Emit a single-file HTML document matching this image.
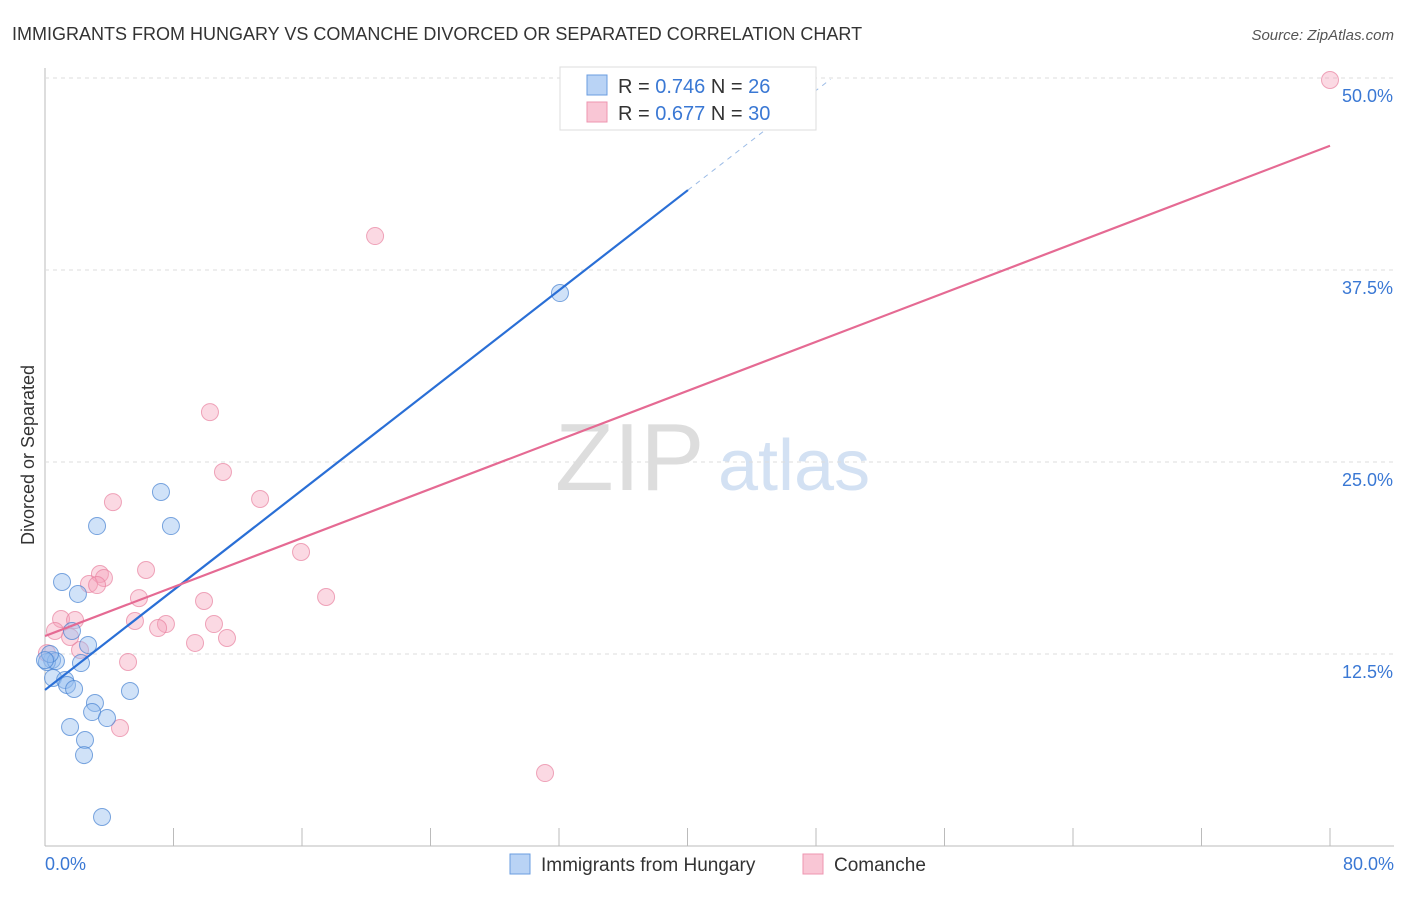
<!DOCTYPE html>
<html><head><meta charset="utf-8"><style>
body{margin:0;background:#fff;font-family:"Liberation Sans",sans-serif}
svg text{font-family:"Liberation Sans",sans-serif}
</style></head><body>
<svg id="chart" width="1406" height="892" viewBox="0 0 1406 892">
<text x="12" y="40" font-size="18" fill="#333">IMMIGRANTS FROM HUNGARY VS COMANCHE DIVORCED OR SEPARATED CORRELATION CHART</text>
<text x="1394" y="40" font-size="15" fill="#555" font-style="italic" text-anchor="end">Source: ZipAtlas.com</text>
<text transform="translate(34,455) rotate(-90)" font-size="18" fill="#333" text-anchor="middle">Divorced or Separated</text>
<text x="555" y="490" font-size="96" fill="#ddd" font-family="Liberation Serif">ZIP</text>
<text x="718" y="490" font-size="72" fill="#d3e1f3">atlas</text>
<g id="grid"></g><g id="pts"></g><g id="lines"></g>
<g>
<rect x="560" y="67" width="256" height="63" fill="#fff" stroke="#ddd"/>
<rect x="587" y="75" width="20" height="20" fill="#b9d3f5" stroke="#6a9de0"/>
<rect x="587" y="102" width="20" height="20" fill="#f9c6d5" stroke="#ee95b0"/>
<text x="618" y="93" font-size="20" fill="#333">R = <tspan fill="#3a78d4">0.746</tspan>   N = <tspan fill="#3a78d4">26</tspan></text>
<text x="618" y="120" font-size="20" fill="#333">R = <tspan fill="#3a78d4">0.677</tspan>   N = <tspan fill="#3a78d4">30</tspan></text>
</g>
<g>
<rect x="510" y="854" width="20" height="20" fill="#b9d3f5" stroke="#6a9de0"/>
<text x="541" y="871" font-size="19" fill="#333">Immigrants from Hungary</text>
<rect x="803" y="854" width="20" height="20" fill="#f9c6d5" stroke="#ee95b0"/>
<text x="834" y="871" font-size="19" fill="#333">Comanche</text>
</g>
</svg>
<script>
const yTicks=[12.5,25,37.5,50];
const yTickLabels=["12.5%","25.0%","37.5%","50.0%"];
const xTickLabels=["0.0%","80.0%"];
const hungaryX=[32.06,7.22,7.84,3.24,1.06,2.05,1.68,2.68,2.24,0.44,0.12,0.68,0.31,0.5,1.25,1.37,1.81,5.29,3.11,2.93,3.86,1.56,2.49,2.43,3.55,0.0];
const hungaryY=[36.0,23.05,20.83,20.83,17.19,16.41,14.0,13.09,11.91,12.11,11.98,12.04,12.5,10.94,10.81,10.48,10.22,10.09,9.31,8.72,8.33,7.75,6.9,5.92,1.89,12.1];
const comancheX=[80.0,20.55,10.27,11.08,4.23,13.39,15.94,6.29,3.42,3.67,2.74,3.24,17.5,5.85,9.9,1.0,1.87,5.6,10.52,7.53,7.04,0.62,11.33,9.34,2.18,5.17,0.12,4.67,31.13,1.56];
const comancheY=[49.87,39.71,28.25,24.35,22.39,22.59,19.14,17.97,17.71,17.45,17.06,16.99,16.21,16.14,15.95,14.78,14.71,14.65,14.45,14.45,14.19,14.0,13.54,13.22,12.76,11.98,12.56,7.68,4.75,13.61];
const hungaryFit=[10.16,0.813];
const comancheFit=[13.67,0.399];
const NS="http://www.w3.org/2000/svg";
const X0=45,X1=1330,Y0=846,YS=192/12.5;
const sx=v=>X0+(v/80)*(X1-X0), sy=v=>Y0-v*YS;
function mk(t,a,p){const e=document.createElementNS(NS,t);for(const k in a)e.setAttribute(k,a[k]);p.appendChild(e);return e;}
const grid=document.getElementById('grid');
let ax=mk('line',{x1:X0,y1:68,x2:X0,y2:846,stroke:'#bbb'},grid);


let bx=mk('line',{x1:X0,y1:846,x2:1394,y2:846,stroke:'#bbb'},grid);


for(let i=1;i<=10;i++){const x=X0+i*128.5;const t=mk('line',{x1:x,y1:828,x2:x,y2:846,stroke:'#bbb'},grid);

}
yTicks.forEach((v,i)=>{const g=mk('line',{x1:X0,y1:sy(v),x2:1394,y2:sy(v),stroke:'#ddd','stroke-dasharray':'4,4'},grid);


const t=mk('text',{x:1393,y:sy(v)+24,'font-size':18,fill:'#3a78d4','text-anchor':'end'},grid);t.textContent=yTickLabels[i];

});
[[0,'start'],[80,'end']].forEach((a,i)=>{const t=mk('text',{x:i?1394:45,y:870,'font-size':18,fill:'#3a78d4','text-anchor':a[1]},grid);t.textContent=xTickLabels[i];

});
const pts=document.getElementById('pts');
comancheX.forEach((x,i)=>{const c=mk('circle',{cx:sx(x),cy:sy(comancheY[i]),r:8.5,fill:'rgba(244,160,185,0.4)',stroke:'rgba(232,130,160,0.7)'},pts);

});
hungaryX.forEach((x,i)=>{const c=mk('circle',{cx:sx(x),cy:sy(hungaryY[i]),r:8.5,fill:'rgba(150,190,240,0.45)',stroke:'rgba(70,130,210,0.7)'},pts);

});
const L=document.getElementById('lines');
let l1=mk('line',{x1:sx(0),y1:sy(hungaryFit[0]),x2:sx(40.03),y2:sy(hungaryFit[0]+hungaryFit[1]*40.03),stroke:'#2a6fd6','stroke-width':2.2},L);


let l1d=mk('line',{x1:sx(40.03),y1:sy(hungaryFit[0]+hungaryFit[1]*40.03),x2:sx(48.9),y2:sy(hungaryFit[0]+hungaryFit[1]*48.9),stroke:'#9bbbe6','stroke-width':1,'stroke-dasharray':'5,5'},L);


let l2=mk('line',{x1:sx(0),y1:sy(comancheFit[0]),x2:sx(80),y2:sy(comancheFit[0]+comancheFit[1]*80),stroke:'#e56a93','stroke-width':2.2},L);


</script>
</body></html>
